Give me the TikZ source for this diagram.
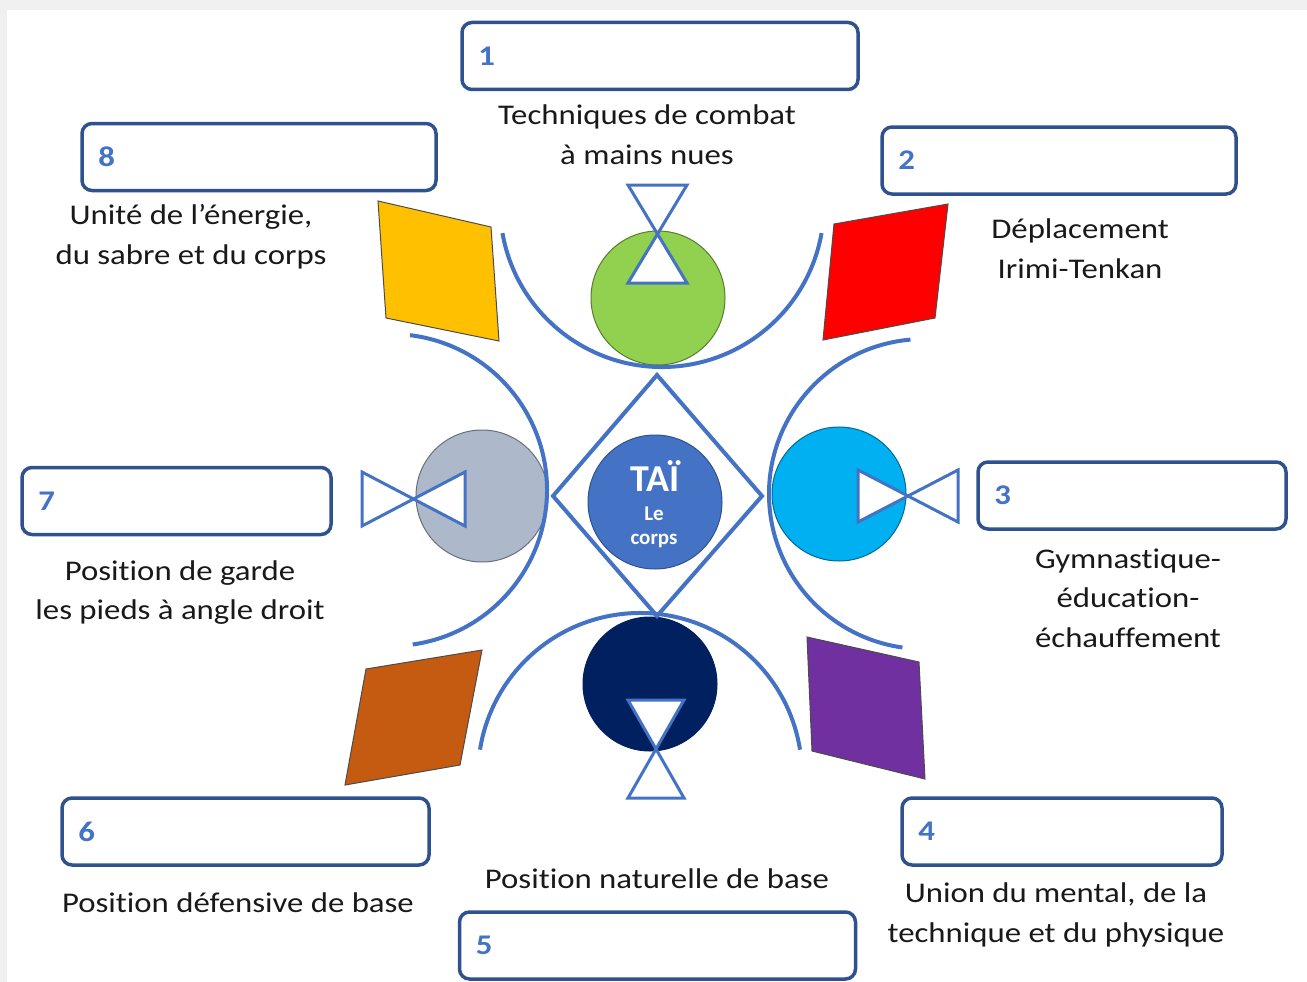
\documentclass[tikz,border=0pt]{standalone}
\usepackage{fontspec}
\setmainfont{Carlito}[FakeStretch=1.15, Ligatures=CommonOff]
\newfontfamily\taifont{Carlito}[Ligatures=CommonOff]
\usetikzlibrary{positioning,shapes}
\definecolor{taiblue}{HTML}{4472C4}
\definecolor{boxblue}{HTML}{2F528F}
\definecolor{yellowc}{HTML}{FFC000}
\definecolor{redc}{HTML}{FF0000}
\definecolor{greenc}{HTML}{92D050}
\definecolor{cyanc}{HTML}{00B0F0}
\definecolor{grayc}{HTML}{ADB9CA}
\definecolor{navyc}{HTML}{002060}
\definecolor{brownc}{HTML}{C55A11}
\definecolor{purplec}{HTML}{7030A0}
\tikzset{
	numbox/.style={draw=boxblue, line width=3.5pt, rounded corners=10pt, fill=white, minimum height=67pt},
	numtxt/.style={text=taiblue, font=\fontsize{28.5}{35}\selectfont\bfseries, inner sep=0pt},
	caption/.style={align=center, font=\fontsize{28.5}{39.5}\selectfont, text=black!90},
	disc/.style={circle, minimum size=134pt, inner sep=0pt, line width=1pt},
	ring/.style={draw=taiblue, line width=4pt},
	tie/.style={draw=taiblue, line width=3pt, fill=white, line join=miter},
	flag/.style={draw=black!70, line width=1pt},
	taitxt/.style={text=white, font=\taifont\bfseries\fontsize{21}{24}\selectfont}
}
\begin{document}
\begin{tikzpicture}[x=1pt, y=-1pt]
		\useasboundingbox (0,0) rectangle (1307,982);
		\fill[black!6] (0,0) rectangle (1307,982);
		\fill[white] (7,10) rectangle (1307,982);
		
		\node [numbox, minimum width=396pt] (b1) at (660, 56) {};
		\node [numbox, minimum width=354pt] (b2) at (1059, 160.5) {};
		\node [numbox, minimum width=308pt] (b3) at (1132, 495.5) {};
		\node [numbox, minimum width=320pt] (b4) at (1062, 831.5) {};
		\node [numbox, minimum width=396pt] (b5) at (657.5, 945.5) {};
		\node [numbox, minimum width=367pt] (b6) at (245.5, 831.5) {};
		\node [numbox, minimum width=309pt] (b7) at (176.5, 501) {};
		\node [numbox, minimum width=354pt] (b8) at (259, 157) {};
		\node [numtxt, right=18pt of b1.west] (n1) {1};
		\node [numtxt, right=18pt of b2.west] (n2) {2};
		\node [numtxt, right=18pt of b3.west] (n3) {3};
		\node [numtxt, right=18pt of b4.west] (n4) {4};
		\node [numtxt, right=18pt of b5.west] (n5) {5};
		\node [numtxt, right=18pt of b6.west] (n6) {6};
		\node [numtxt, right=18pt of b7.west] (n7) {7};
		\node [numtxt, right=18pt of b8.west] (n8) {8};
		
		\node [caption] (t1) at (647, 134.5) {Techniques de combat\\à mains nues};
		\node [caption] (t2) at (1080, 248.5) {Déplacement\\Irimi-Tenkan};
		\node [caption] (t3) at (1128, 598) {Gymnastique-\\éducation-\\échauffement};
		\node [caption] (t4) at (1056, 915) {Union du mental, de la\\technique et du physique};
		\node [caption] (t5) at (657, 879) {Position naturelle de base};
		\node [caption] (t6) at (238, 903) {Position défensive de base};
		\node [caption] (t7) at (180, 592.5) {Position de garde\\les pieds à angle droit};
		\node [caption] (t8) at (191, 236.5) {Unité de l’énergie,\\du sabre et du corps};
		
		\filldraw [flag, fill=yellowc] (378,201) -- (491,227) -- (499,341) -- (386,318) -- cycle;
		\filldraw [flag, fill=redc] (834,224) -- (948,204) -- (935,318) -- (823,340) -- cycle;
		\filldraw [flag, fill=purplec] (807,637) -- (919,662) -- (925,779) -- (812,751) -- cycle;
		\filldraw [flag, fill=brownc] (366,669) -- (482,650) -- (460,765) -- (345,785) -- cycle;
		
		\node [disc, fill=greenc, draw=greenc!60!black] (green) at (658, 298) {};
		\node [disc, fill=cyanc, draw=cyanc!60!black] (cyan) at (839, 494) {};
		\node [disc, fill=navyc, draw=navyc] (navy) at (650, 684) {};
		\node [disc, fill=grayc, draw=grayc!60!black, minimum size=132pt] (gray) at (482, 496) {};
		\node [disc, fill=taiblue, draw=boxblue] (tai) at (655, 502) {};
		\node [taitxt, font=\taifont\bfseries\fontsize{38}{40}\selectfont] (taiword) at (655, 476) {TAÏ};
		\node [taitxt] (le) at (654, 514) {Le};
		\node [taitxt] (corps) at (654, 541) {corps};
		
		\coordinate (ctop) at (662, 205);
		\coordinate (cbot) at (640, 775);
		\coordinate (cleft) at (391, 490);
		\coordinate (cright) at (924, 494);
		\draw [ring] ([shift={(190:162pt)}]ctop) arc [start angle=190, end angle=350, radius=162pt];
		\draw [ring] ([shift={(9:162pt)}]cbot) arc [start angle=9, end angle=171, radius=162pt];
		\draw [ring] ([shift={(83:156pt)}]cleft) arc [start angle=83, end angle=-82, radius=156pt];
		\draw [ring] ([shift={(95:155pt)}]cright) arc [start angle=95, end angle=262, radius=155pt];
		\draw [ring, line join=miter] (657,375) -- (762,496) -- (657,616) -- (553,496) -- cycle;
		
		\draw [tie] (628,185) -- (687,185) -- (628,283) -- (687,283) -- cycle;
		\draw [tie] (628,700) -- (684,700) -- (628,798) -- (684,798) -- cycle;
		\draw [tie] (362,472) -- (362,526) -- (465,472) -- (465,526) -- cycle;
		\draw [tie] (858,470) -- (858,522) -- (958,470) -- (958,522) -- cycle;
		
	\end{tikzpicture}
\end{document}
